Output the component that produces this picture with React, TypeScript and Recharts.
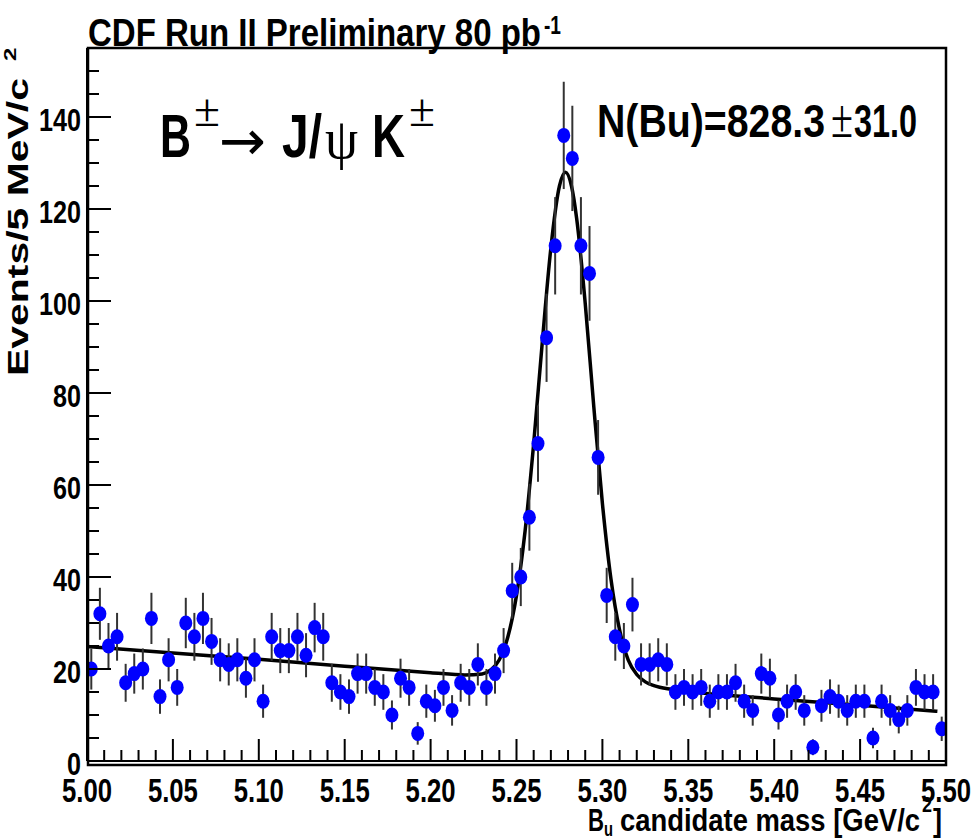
import { ComposedChart, Scatter, Line, XAxis, YAxis, ErrorBar } from 'recharts';

// B+- -> J/psi K+- candidate mass, 5 MeV bins from 5.00 to 5.50 GeV/c^2
const binLow = 5.0;
const binWidth = 0.005;

const counts = [
  20, 32, 25, 27, 17, 19, 20, 31, 14, 22,
  16, 30, 27, 31, 26, 22, 21, 22, 18, 22,
  13, 27, 24, 24, 27, 23, 29, 27, 17, 15,
  14, 19, 19, 16, 15, 10, 18, 16, 6, 13,
  12, 16, 11, 17, 16, 21, 16, 19, 24, 37,
  40, 53, 69, 92, 112, 136, 131, 112, 106, 66,
  36, 27, 25, 34, 21, 21, 22, 21, 15, 16,
  15, 16, 13, 15, 15, 17, 13, 11, 19, 18,
  10, 13, 15, 11, 3, 12, 14, 13, 11, 13,
  13, 5, 13, 11, 9, 11, 16, 15, 15, 7,
];

// fitted gaussian + linear background
const fitMass = [
  5.0, 5.05, 5.1, 5.15, 5.2, 5.22, 5.23, 5.235, 5.24, 5.245,
  5.25, 5.255, 5.26, 5.265, 5.27, 5.275, 5.2785, 5.282, 5.285, 5.29,
  5.295, 5.3, 5.305, 5.31, 5.315, 5.32, 5.325, 5.33, 5.34, 5.35,
  5.4, 5.45, 5.495,
];
const fitValue = [
  24.9, 23.5, 22.1, 20.6, 19.2, 18.7, 18.9, 19.8, 22.0, 27.0,
  36.0, 50.0, 69.0, 91.0, 111.5, 125.0, 128.0, 125.0, 118.0, 99.5,
  77.0, 56.0, 39.5, 28.5, 22.0, 18.8, 17.2, 16.4, 15.6, 15.1,
  13.5, 12.1, 10.8,
];

const xMajorLabels = ['5.00', '5.05', '5.10', '5.15', '5.20', '5.25', '5.30', '5.35', '5.40', '5.45', '5.50'];
const yMajorLabels = ['0', '20', '40', '60', '80', '100', '120', '140'];

const W = 973;
const H = 838;
const PLOT_LEFT = 87;
const PLOT_RIGHT = 946;
const PLOT_TOP = 48;
const PLOT_BOTTOM = 761;
const X_AXIS_H = 40;
const Y_AXIS_W = 60;

const SANS = '"Liberation Sans", Arial, Helvetica, sans-serif';
const SERIF = '"Liberation Serif", "DejaVu Serif", serif';
const SYMBOL = '"DejaVu Sans", sans-serif';

const points = counts.map((c, i) => ({
  mass: binLow + binWidth * (i + 0.5),
  count: c,
  err: Math.sqrt(c), // poisson errors
}));

const fitPoints = fitMass.map((m, i) => ({ mass: m, fit: fitValue[i] }));

const xTicks = Array.from({ length: 51 }, (_, i) => +(5 + i * 0.01).toFixed(2));
const yTicks = Array.from({ length: 31 }, (_, i) => i * 5);

function XTick({ x, payload }: any) {
  const label = Number(payload.value).toFixed(2);
  const major = xMajorLabels.includes(label);
  return (
    <g>
      <line x1={x} x2={x} y1={PLOT_BOTTOM} y2={PLOT_BOTTOM - (major ? 22 : 11)} stroke="#000" strokeWidth={2} />
      {major && (
        <text x={x} y={802} textAnchor="middle" fontFamily={SANS} fontWeight={700} fontSize={34}
          textLength={50} lengthAdjust="spacingAndGlyphs" fill="#000">
          {label}
        </text>
      )}
    </g>
  );
}

function YTick({ y, payload }: any) {
  const label = String(payload.value);
  const major = yMajorLabels.includes(label);
  return (
    <g>
      <line x1={PLOT_LEFT} x2={PLOT_LEFT + (major ? 24 : 12)} y1={y} y2={y} stroke="#000" strokeWidth={2} />
      {major && (
        <text x={81} y={y + 14} textAnchor="end" fontFamily={SANS} fontWeight={700} fontSize={31}
          textLength={label.length * 14} lengthAdjust="spacingAndGlyphs" fill="#000">
          {label}
        </text>
      )}
    </g>
  );
}

function Dot(props: any) {
  return <ellipse cx={props.cx} cy={props.cy} rx={6.5} ry={7.5} fill="#0000ff" />;
}

function T({ x, y, size, len, bold = true, font = SANS, anchor = 'start', children }: any) {
  return (
    <text x={x} y={y} fontSize={size} textLength={len} lengthAdjust="spacingAndGlyphs" textAnchor={anchor}
      fontFamily={font} fontWeight={bold ? 700 : 400} fill="#000">
      {children}
    </text>
  );
}

function Overlay() {
  return (
    <svg width={W} height={H} style={{ position: 'absolute', left: 0, top: 0, pointerEvents: 'none' }}>
      <rect x={PLOT_LEFT + 1} y={PLOT_TOP} width={PLOT_RIGHT - PLOT_LEFT - 1} height={765 - PLOT_TOP}
        fill="none" stroke="#000" strokeWidth={2.5} />

      {/* title */}
      <T x={88} y={46} size={39} len={453}>CDF Run II Preliminary 80 pb</T>
      <T x={544} y={34} size={26} len={17}>-1</T>

      {/* decay label */}
      <T x={160} y={157} size={62} len={31}>B</T>
      <T x={194} y={126} size={46} len={26} bold={false} font={SERIF}>±</T>
      <T x={219} y={160} size={56} len={47} bold={false} font={SYMBOL}>→</T>
      <T x={282} y={157} size={62} len={40}>J/</T>
      <T x={325} y={158} size={58} len={33} bold={false} font={SERIF}>ψ</T>
      <T x={372} y={157} size={62} len={33}>K</T>
      <T x={409} y={126} size={46} len={26} bold={false} font={SERIF}>±</T>

      {/* yield */}
      <T x={597} y={137} size={46} len={228}>N(Bu)=828.3</T>
      <T x={831} y={137} size={54} len={22} bold={false} font={SERIF}>±</T>
      <T x={854} y={137} size={46} len={63}>31.0</T>

      {/* x axis title */}
      <T x={588} y={831} size={32} len={16}>B</T>
      <T x={604} y={836} size={20} len={9}>u</T>
      <T x={620} y={831} size={32} len={300}>candidate mass [GeV/c</T>
      <T x={922} y={812} size={22} len={10}>2</T>
      <T x={933} y={831} size={32} len={9}>]</T>

      {/* y axis title */}
      <text transform="translate(28,376) rotate(-90) scale(1,0.71)" fontSize={41} textLength={298}
        lengthAdjust="spacingAndGlyphs" fontFamily={SANS} fontWeight={700} fill="#000">
        Events/5 MeV/c
      </text>
      <text transform="translate(16,61) rotate(-90) scale(1,0.71)" fontSize={24} fontFamily={SANS}
        fontWeight={700} fill="#000">
        2
      </text>
    </svg>
  );
}

export default function App() {
  return (
    <div style={{ position: 'absolute', left: 0, top: 0, width: W, height: H, background: '#fff' }}>
      <ComposedChart
        width={W}
        height={H}
        margin={{ top: PLOT_TOP, right: W - PLOT_RIGHT, bottom: H - PLOT_BOTTOM - X_AXIS_H, left: PLOT_LEFT - Y_AXIS_W }}
      >
        <XAxis
          dataKey="mass"
          type="number"
          domain={[5.0, 5.5]}
          ticks={xTicks}
          interval={0}
          allowDataOverflow
          height={X_AXIS_H}
          tickLine={false}
          axisLine={{ stroke: '#000', strokeWidth: 2 }}
          tick={<XTick />}
        />
        <YAxis
          type="number"
          domain={[0, 155]}
          ticks={yTicks}
          interval={0}
          allowDataOverflow
          width={Y_AXIS_W}
          tickLine={false}
          axisLine={{ stroke: '#000', strokeWidth: 2 }}
          tick={<YTick />}
        />
        <Line
          data={fitPoints}
          dataKey="fit"
          type="monotone"
          stroke="#000"
          strokeWidth={3.5}
          dot={false}
          activeDot={false}
          isAnimationActive={false}
        />
        <Scatter data={points} dataKey="count" shape={<Dot />} isAnimationActive={false}>
          <ErrorBar dataKey="err" direction="y" width={0} stroke="#333" strokeWidth={2} isAnimationActive={false} />
        </Scatter>
      </ComposedChart>
      <Overlay />
    </div>
  );
}
